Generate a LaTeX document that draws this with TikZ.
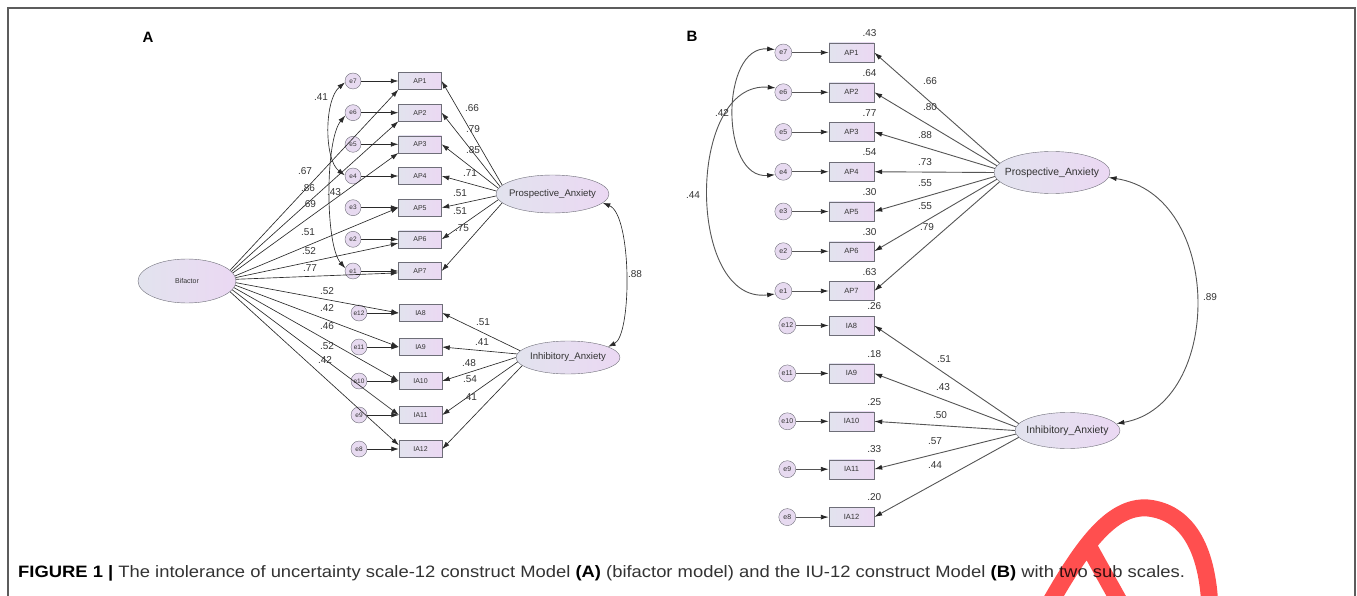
\documentclass[tikz,border=0pt]{standalone}
\usepackage{graphicx}
\usepackage{fontspec}
\setmainfont{Liberation Sans}
\usetikzlibrary{shapes.geometric, arrows.meta, positioning, calc}

\definecolor{latleft}{HTML}{E2E3EE}
\definecolor{latright}{HTML}{EBD8F3}
\definecolor{errfill}{HTML}{E7DAF0}
\definecolor{edgegray}{HTML}{6E6E78}
\definecolor{inkA}{HTML}{2A2A2A}
\definecolor{inkB}{HTML}{555555}
\definecolor{txt}{HTML}{333333}
\definecolor{stamp}{HTML}{FF4F4F}
\definecolor{framegray}{HTML}{5C5C5C}

\begin{document}
\begin{tikzpicture}[x=1pt, y=-1pt,
  latent/.style={ellipse, draw=edgegray, left color=latleft, right color=latright, inner sep=0pt},
  lattext/.style={text=txt, inner sep=0pt},
  item/.style={rectangle, draw=edgegray, left color=latleft, right color=latright, inner sep=0pt, text=txt},
  err/.style={circle, draw=edgegray, fill=errfill, inner sep=0pt, text=txt},
  load/.style={-{Latex[length=7.5pt,width=5pt]}, inkA, line width=0.65pt},
  cov/.style={{Latex[length=7.5pt,width=5pt]}-{Latex[length=7.5pt,width=5pt]}, inkA, line width=0.65pt},
  loadB/.style={-{Latex[length=8pt,width=5pt,color=black!85]}, inkB, line width=0.9pt},
  covB/.style={{Latex[length=8pt,width=5pt,color=black!85]}-{Latex[length=8pt,width=5pt,color=black!85]}, inkB, line width=0.9pt},
  coef/.style={text=txt, font=\fontsize{10}{12}\selectfont, inner sep=0pt},
]
\useasboundingbox (0,0) rectangle (1357,596);

% Frame
\draw[framegray, line width=1.5pt] (8,600) -- (8,8) -- (1355,8) -- (1355,600);

%%% Panel A: bifactor model
\node[font=\bfseries\fontsize{15}{15}\selectfont] (labA) at (148,37) {A};

% items and errors
\foreach \i/\y in {1/81,2/112.7,3/144.3,4/176,5/207.7,6/239.3,7/271}{
  \pgfmathtruncatemacro\e{8-\i}
  \node[item, minimum width=43pt, minimum height=17pt, font=\fontsize{7}{8}\selectfont] (aap\i) at (420,\y) {AP\i};
  \node[err, minimum size=16pt, font=\fontsize{6.5}{7}\selectfont] (ae\e) at (353,\y) {e\e};
  \draw[load] (ae\e) -- (aap\i);
}
\foreach \i/\y in {8/313,9/347,10/381,11/415,12/449}{
  \pgfmathtruncatemacro\e{20-\i}
  \node[item, minimum width=43pt, minimum height=17pt, font=\fontsize{7}{8}\selectfont] (aia\i) at (420.5,\y) {IA\i};
  \node[err, minimum size=16pt, font=\fontsize{6.5}{7}\selectfont] (ae\e) at (359,\y) {e\e};
  \draw[load] (ae\e) -- (aia\i);
}

% latent factors
\node[latent, minimum width=98pt, minimum height=44pt,
  label={[lattext, font=\fontsize{7}{8}\selectfont]center:Bifactor}] (bif) at (187,281) {};
\node[latent, minimum width=113pt, minimum height=38pt,
  label={[lattext, font=\fontsize{9.6}{10}\selectfont]center:Prospective\_Anxiety}] (apA) at (552.5,194) {};
\node[latent, minimum width=104pt, minimum height=33pt,
  label={[lattext, font=\fontsize{9.6}{10}\selectfont]center:Inhibitory\_Anxiety}] (iaA) at (568,357.5) {};

% loadings
\foreach \i/\a in {1/170,2/172,3/174,4/177,5/182,6/186,7/190}
  \draw[load] (apA.\a) -- (aap\i.east);
\foreach \i/\a in {8/172,9/176,10/180,11/185,12/190}
  \draw[load] (iaA.\a) -- (aia\i.east);
\foreach \t/\a in {aap1.south west/14, aap2.south west/12, aap3.south west/10, aap5.west/6,
    aap6.190/4, aap7.185/2, aia8.west/-2, aia9.west/-5, aia10.west/-8, aia11.west/-11, aia12.170/-14}
  \draw[load] (bif.\a) -- (\t);

% covariances
\draw[cov] (ae7.190) .. controls (324,100) and (324,160) .. (ae4.175);
\draw[cov] (ae6.200) .. controls (325,140) and (325,245) .. (ae1.160);
\draw[cov] (apA.-10) .. controls (632,215) and (632,335) .. (iaA.15);

% estimates
\foreach \v/\x/\y [count=\k] in {.66/472/108, .79/473/129, .85/473/150, .71/470/173, .51/460/193,
    .51/460/211, .75/462/228, .51/483/322, .41/482/342, .48/469/363, .54/470/379, .41/470/397,
    .67/305/171, .86/308/188, .69/309/204, .51/308/232, .52/309/251, .77/310/268,
    .52/327/291, .42/327/308, .46/327/326, .52/327/346, .42/325/360,
    .41/321/97, .43/334/192, .88/635/274}
  \node[coef] (estA\k) at (\x,\y) {\v};

%%% Panel B: two sub scales
\node[font=\bfseries\fontsize{15}{15}\selectfont] (labB) at (692,36) {B};

\foreach \i/\y/\r in {1/52.5/.43,2/92.25/.64,3/132/.77,4/171.75/.54,5/211.5/.30,6/251.25/.30,7/291/.63}{
  \pgfmathtruncatemacro\e{8-\i}
  \node[item, minimum width=45pt, minimum height=19pt, font=\fontsize{7.5}{8}\selectfont] (bap\i) at (851.5,\y) {AP\i};
  \node[err, minimum size=17pt, font=\fontsize{7}{8}\selectfont] (be\e) at (783.3,\y) {e\e};
  \node[coef] (rsq\i) at (869.5,\y-19.3) {\r};
  \draw[loadB] (be\e) -- (bap\i);
}
\foreach \i/\y/\r in {8/325.5/.26,9/373.4/.18,10/421.3/.25,11/469.2/.33,12/517.1/.20}{
  \pgfmathtruncatemacro\e{20-\i}
  \node[item, minimum width=45pt, minimum height=19pt, font=\fontsize{7.5}{8}\selectfont] (bia\i) at (851.5,\y) {IA\i};
  \node[err, minimum size=17pt, font=\fontsize{7}{8}\selectfont] (be\e) at (787.3,\y) {e\e};
  \node[coef] (rsq\i) at (874.3,\y-19.7) {\r};
  \draw[loadB] (be\e) -- (bia\i);
}

\node[latent, minimum width=116pt, minimum height=42pt,
  label={[lattext, font=\fontsize{10.4}{11}\selectfont]center:Prospective\_Anxiety}] (apB) at (1052,172.5) {};
\node[latent, minimum width=105pt, minimum height=36pt,
  label={[lattext, font=\fontsize{10.4}{11}\selectfont]center:Inhibitory\_Anxiety}] (iaB) at (1067.5,430.5) {};

\foreach \i/\a in {1/170,2/173,3/176,4/180,5/184,6/187,7/190}
  \draw[loadB] (apB.\a) -- (bap\i.east);
\foreach \i/\a in {8/172,9/176,10/180,11/184,12/188}
  \draw[loadB] (iaB.\a) -- (bia\i.east);

\draw[covB] (be7.160) .. controls (720,45) and (720,180) .. (be4.200);
\draw[covB] (be6.150) .. controls (686,80) and (686,305) .. (be1.200);
\draw[covB] (apB.-5) .. controls (1224,195) and (1224,405) .. (iaB.8);

\foreach \v/\x/\y [count=\k] in {.66/930/81, .80/930/107, .88/925/135, .73/925/162, .55/925/183,
    .55/925/206, .79/927/227, .51/944/359, .43/943/387, .50/940/415, .57/935/441, .44/935/465,
    .42/722/113, .44/693/195, .89/1210/297}
  \node[coef] (estB\k) at (\x,\y) {\v};

% Caption
\node[anchor=base west, inner sep=0pt, text=txt, font=\fontsize{16.5}{18}\selectfont] (cap) at (18,577)
  {\scalebox{1.115}[1]{\textbf{\color{black}FIGURE 1 |} The intolerance of uncertainty scale-12 construct Model \textbf{\color{black}(A)} (bifactor model) and the IU-12 construct Model \textbf{\color{black}(B)} with two sub scales.}};

% red stamp
\begin{scope}[blend mode=multiply]
\draw[stamp, line width=17pt] (1046,610) .. controls (1080,550) and (1110,505) .. (1148,508)
  .. controls (1185,512) and (1208,545) .. (1210,610)
  (1085,540) -- (1124,610);
\end{scope}
\end{tikzpicture}
\end{document}
